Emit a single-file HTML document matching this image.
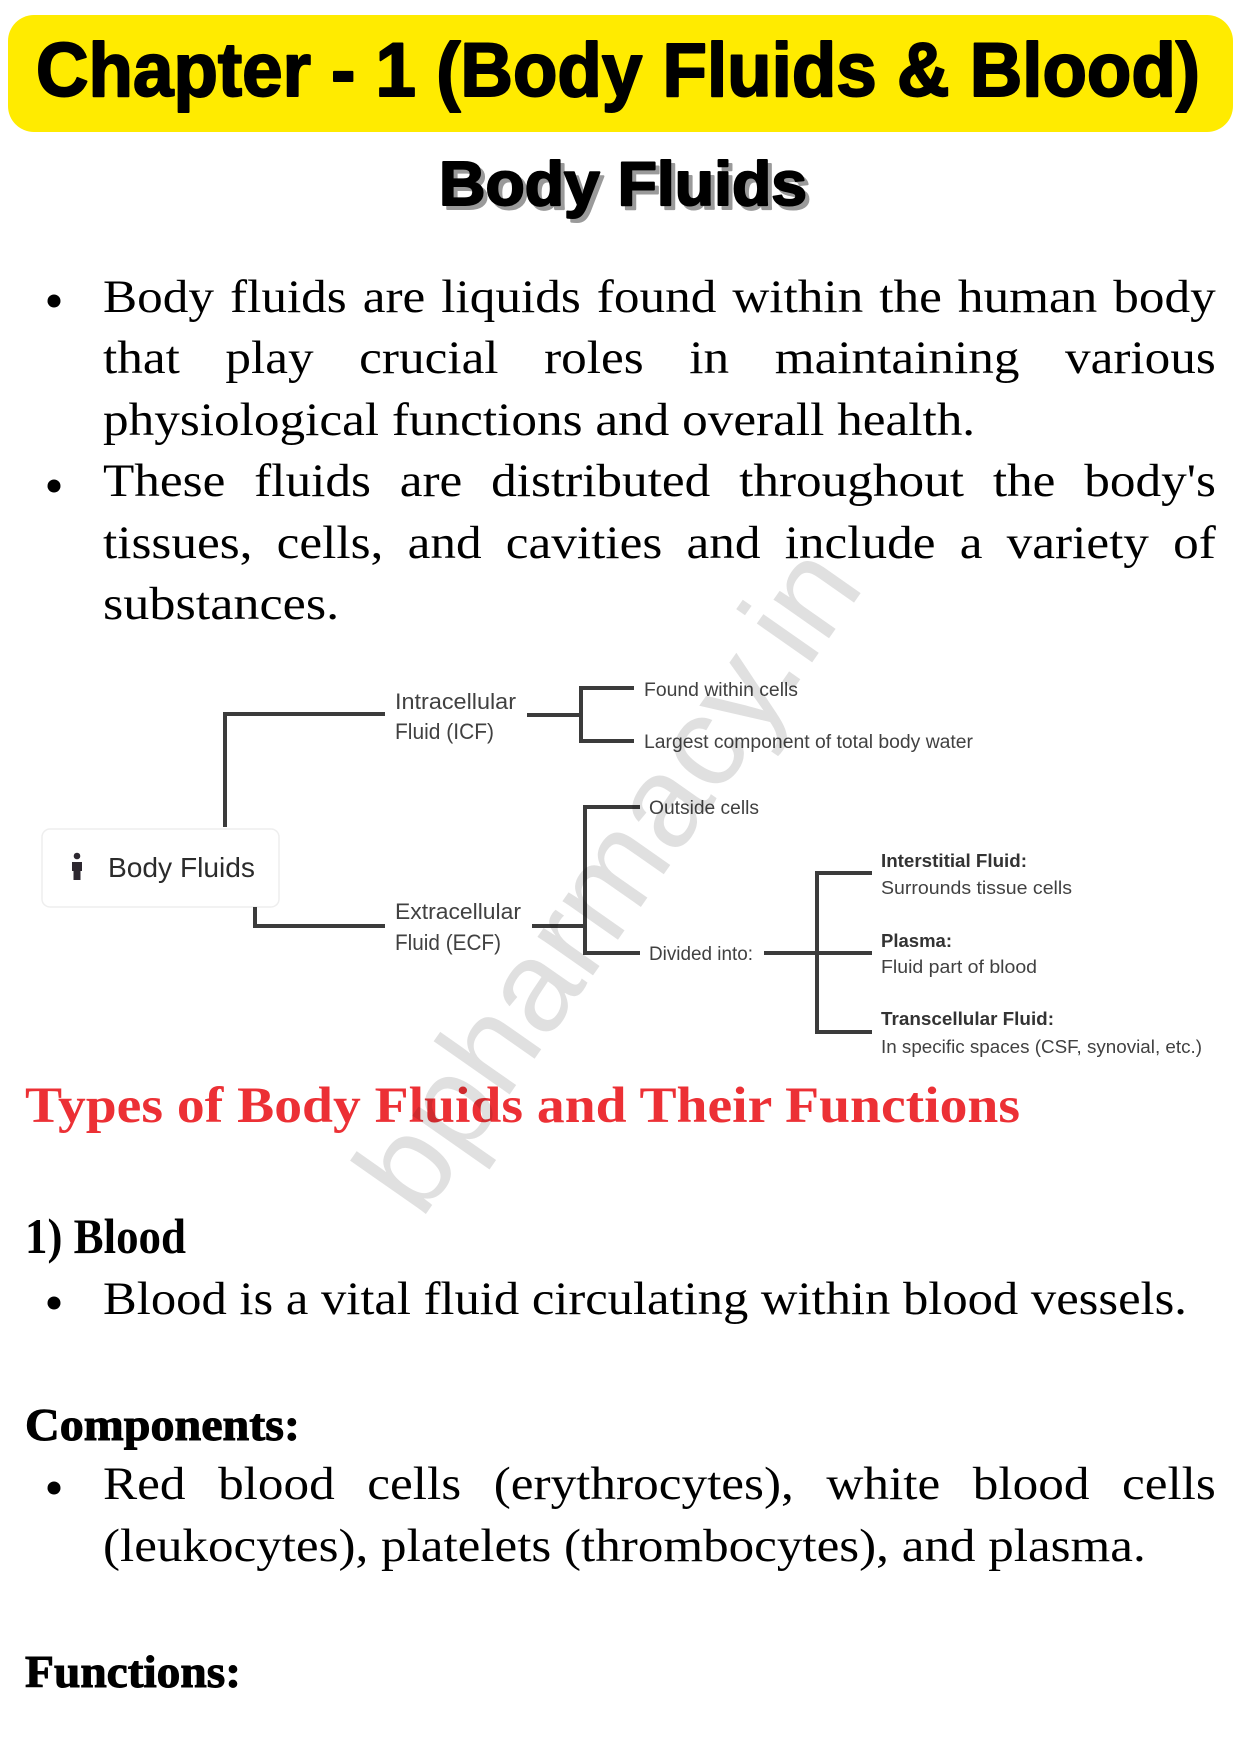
<!DOCTYPE html>
<html><head><meta charset="utf-8">
<style>
html,body{margin:0;padding:0;background:#fff;}
body{width:1241px;height:1754px;position:relative;overflow:hidden;}
svg.layer{position:absolute;left:0;top:0;}
.ln{position:absolute;left:103px;font-family:"Liberation Serif",serif;font-size:47px;line-height:47px;white-space:nowrap;transform-origin:0 0;color:#000;}
.j{display:flex;justify-content:space-between;width:1021px;transform:scaleX(1.09);}
</style></head><body>

<svg class="layer" width="1241" height="1754" viewBox="0 0 1241 1754">
  <!-- Title bar -->
  <rect x="8" y="15" width="1225" height="117" rx="26" ry="26" fill="#ffeb00"/>
  <text x="36" y="96" font-family="Liberation Sans, sans-serif" font-weight="bold" font-size="76" textLength="1164" lengthAdjust="spacingAndGlyphs" fill="#000" stroke="#000" stroke-width="2" stroke-linejoin="round">Chapter - 1 (Body Fluids &amp; Blood)</text>

  <!-- Body Fluids heading with shadow -->
  <text x="443" y="209" font-family="Liberation Sans, sans-serif" font-weight="bold" font-size="62" textLength="368" lengthAdjust="spacingAndGlyphs" fill="#9a9a9a" stroke="#9a9a9a" stroke-width="2" stroke-linejoin="round">Body Fluids</text>
  <text x="439" y="205" font-family="Liberation Sans, sans-serif" font-weight="bold" font-size="62" textLength="368" lengthAdjust="spacingAndGlyphs" fill="#000" stroke="#000" stroke-width="2" stroke-linejoin="round">Body Fluids</text>

  <!-- bullets -->
  <g fill="#000">
    <circle cx="54" cy="301" r="6.5"/>
    <circle cx="54" cy="486" r="6.5"/>
    <circle cx="54" cy="1303" r="6.5"/>
    <circle cx="54" cy="1488" r="6.5"/>
  </g>

  <!-- Diagram -->
  <rect x="42" y="829" width="237" height="78" rx="8" ry="8" fill="#fff" stroke="#eeeeee" stroke-width="1.5"/>
  <circle cx="77" cy="856" r="3.3" fill="#2d2830"/>
  <path d="M72 862 h10 v9 h-1.5 v9 h-7 v-9 h-1.5z" fill="#2d2830"/>
  <text x="108" y="877" font-family="Liberation Sans, sans-serif" font-size="28" textLength="147" lengthAdjust="spacingAndGlyphs" fill="#2b2b2b">Body Fluids</text>

  <g fill="none" stroke="#3b3b3b" stroke-width="4" stroke-linejoin="miter">
    <path d="M225 827 V714 H385"/>
    <path d="M255 907 V926 H385"/>
    <path d="M527 715 H581"/>
    <path d="M634 688 H581 V741 H634"/>
    <path d="M532 926 H585"/>
    <path d="M640 807 H585 V953 H640"/>
    <path d="M764 953 H872"/>
    <path d="M872 873 H817 V1032 H872"/>
  </g>

  <g font-family="Liberation Sans, sans-serif" fill="#414141">
    <text x="395" y="709" font-size="22" textLength="121" lengthAdjust="spacingAndGlyphs">Intracellular</text>
    <text x="395" y="739" font-size="22" textLength="99" lengthAdjust="spacingAndGlyphs">Fluid (ICF)</text>
    <text x="395" y="919" font-size="22" textLength="126" lengthAdjust="spacingAndGlyphs">Extracellular</text>
    <text x="395" y="950" font-size="22" textLength="106" lengthAdjust="spacingAndGlyphs">Fluid (ECF)</text>

    <text x="644" y="696" font-size="19" textLength="154" lengthAdjust="spacingAndGlyphs">Found within cells</text>
    <text x="644" y="748" font-size="19" textLength="329" lengthAdjust="spacingAndGlyphs">Largest component of total body water</text>
    <text x="649" y="814" font-size="19" textLength="110" lengthAdjust="spacingAndGlyphs">Outside cells</text>
    <text x="649" y="960" font-size="19" textLength="104" lengthAdjust="spacingAndGlyphs">Divided into:</text>

    <text x="881" y="867" font-size="18" font-weight="bold" fill="#333" textLength="146" lengthAdjust="spacingAndGlyphs">Interstitial Fluid:</text>
    <text x="881" y="894" font-size="18" textLength="191" lengthAdjust="spacingAndGlyphs">Surrounds tissue cells</text>
    <text x="881" y="947" font-size="18" font-weight="bold" fill="#333" textLength="71" lengthAdjust="spacingAndGlyphs">Plasma:</text>
    <text x="881" y="973" font-size="18" textLength="156" lengthAdjust="spacingAndGlyphs">Fluid part of blood</text>
    <text x="881" y="1025" font-size="18" font-weight="bold" fill="#333" textLength="173" lengthAdjust="spacingAndGlyphs">Transcellular Fluid:</text>
    <text x="881" y="1053" font-size="18" textLength="321" lengthAdjust="spacingAndGlyphs">In specific spaces (CSF, synovial, etc.)</text>
  </g>

  <!-- Section headings -->
  <text x="25" y="1122" font-family="Liberation Serif, serif" font-weight="bold" font-size="51" textLength="995" lengthAdjust="spacingAndGlyphs" fill="#ec3035">Types of Body Fluids and Their Functions</text>
  <text x="25" y="1253" font-family="Liberation Serif, serif" font-weight="bold" font-size="50" textLength="161" lengthAdjust="spacingAndGlyphs" fill="#000">1) Blood</text>
  <text x="25" y="1440" font-family="Liberation Serif, serif" font-weight="bold" font-size="46" textLength="275" lengthAdjust="spacingAndGlyphs" fill="#000" stroke="#000" stroke-width="1">Components:</text>
  <text x="25" y="1687" font-family="Liberation Serif, serif" font-weight="bold" font-size="46" textLength="216" lengthAdjust="spacingAndGlyphs" fill="#000" stroke="#000" stroke-width="1">Functions:</text>
</svg>

<!-- Paragraph 1 -->
<div class="ln j" style="top:274px"><span>Body</span><span>fluids</span><span>are</span><span>liquids</span><span>found</span><span>within</span><span>the</span><span>human</span><span>body</span></div>
<div class="ln j" style="top:335px"><span>that</span><span>play</span><span>crucial</span><span>roles</span><span>in</span><span>maintaining</span><span>various</span></div>
<div class="ln" style="top:397px;transform:scaleX(1.09)">physiological functions and overall health.</div>
<div class="ln j" style="top:458px"><span>These</span><span>fluids</span><span>are</span><span>distributed</span><span>throughout</span><span>the</span><span>body's</span></div>
<div class="ln j" style="top:520px"><span>tissues,</span><span>cells,</span><span>and</span><span>cavities</span><span>and</span><span>include</span><span>a</span><span>variety</span><span>of</span></div>
<div class="ln" style="top:581px;transform:scaleX(1.11)">substances.</div>

<!-- Blood bullet -->
<div class="ln" style="top:1276px;transform:scaleX(1.077)">Blood is a vital fluid circulating within blood vessels.</div>

<!-- Components bullet -->
<div class="ln j" style="top:1461px"><span>Red</span><span>blood</span><span>cells</span><span>(erythrocytes),</span><span>white</span><span>blood</span><span>cells</span></div>
<div class="ln" style="top:1523px;transform:scaleX(1.087)">(leukocytes), platelets (thrombocytes), and plasma.</div>

<!-- Watermark overlay -->
<svg class="layer" width="1241" height="1754" viewBox="0 0 1241 1754" style="pointer-events:none">
  <text transform="translate(421,1221) rotate(-55)" x="0" y="0" font-family="Liberation Sans, sans-serif" font-size="128" textLength="775" lengthAdjust="spacingAndGlyphs" fill="#000" fill-opacity="0.12">bpharmacy.in</text>
</svg>

</body></html>
